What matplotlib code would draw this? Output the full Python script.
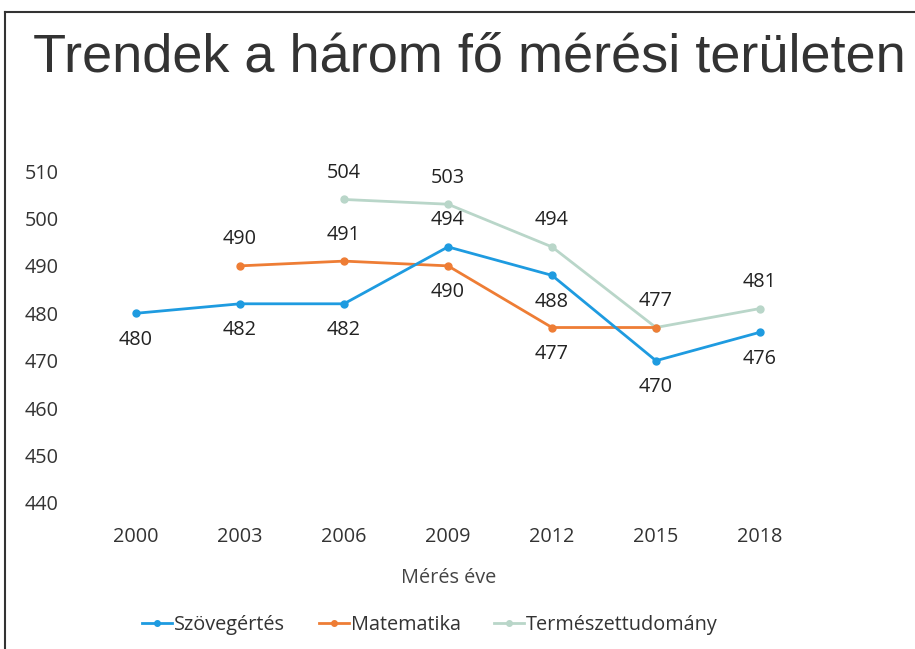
import matplotlib
matplotlib.use("Agg")
import matplotlib.pyplot as plt
import numpy as np
from matplotlib.lines import Line2D

years = ["2000", "2003", "2006", "2009", "2012", "2015", "2018"]
szoveg = [480, 482, 482, 494, 488, 470, 476]
matek = [None, 490, 491, 490, 477, 477, None]
termtud = [None, None, 504, 503, 494, 477, 481]
yticks = [440, 450, 460, 470, 480, 490, 500, 510]

# label placement: +1 above, -1 below, 0 none
szoveg_pos = [-1, -1, -1, 1, -1, -1, -1]
matek_pos = [0, 1, 1, -1, -1, 0, 0]
termtud_pos = [0, 0, 1, 1, 1, 1, 1]

c_blue = "#1e9be0"
c_orange = "#ee7d35"
c_green = "#b9d6c9"
font = ["Open Sans", "DejaVu Sans"]
fs = 14.3

fig = plt.figure(figsize=(9.15, 6.49), dpi=100)
ax = fig.add_axes([0.0918, 0.225, 0.7956, 0.5115])
x = np.arange(len(years))

def plot_series(vals, color, pos, lw=2.0, z=3):
    xs = [i for i, v in enumerate(vals) if v is not None]
    ys = [v for v in vals if v is not None]
    ax.plot(xs, ys, color=color, lw=lw, marker="o", ms=5, zorder=z)
    for i, v in enumerate(vals):
        if v is None or pos[i] == 0:
            continue
        ax.annotate(str(v), (i, v), xytext=(0, 19 * pos[i]), textcoords="offset points",
                    ha="center", va="center", fontsize=fs, color="#222222", family=font)

plot_series(termtud, c_green, termtud_pos, lw=2.0, z=2)
plot_series(matek, c_orange, matek_pos, z=3)
plot_series(szoveg, c_blue, szoveg_pos, z=4)

ax.set_xlim(-0.5, len(years) - 0.5)
ax.set_ylim(440, 510)
ax.set_yticks(yticks)
ax.set_xticks(x)
ax.set_xticklabels(years)
for s in ax.spines.values():
    s.set_visible(False)
ax.tick_params(length=0, labelsize=fs, colors="#333333")
ax.tick_params(axis="y", pad=18)
ax.tick_params(axis="x", pad=17)
for lab in ax.get_xticklabels() + ax.get_yticklabels():
    lab.set_family(font)

fig.text(0.49, 1 - 578 / 649, "Mérés éve",
         ha="center", va="center", fontsize=fs, color="#444444", family=font)

fig.text(0.513, 1 - 58 / 649, "Trendek a három fő mérési területen", ha="center", va="center",
         fontsize=39, color="#333333", family=["Liberation Sans", "DejaVu Sans"])

handles = [Line2D([], [], color=c, lw=2, marker="o", ms=4) for c in (c_blue, c_orange, c_green)]
fig.legend(handles, ["Szövegértés", "Matematika", "Természettudomány"], loc="center",
           bbox_to_anchor=(0.47, 1 - 625 / 649), ncol=3, frameon=False,
           prop={"family": "Open Sans", "size": fs}, handlelength=1.5, handletextpad=0.1,
           columnspacing=1.7, labelcolor="#333333")

# page frame lines (top and left)
fig.add_artist(Line2D([0.005, 1.0], [1 - 12 / 649, 1 - 12 / 649], color="#333333", lw=1.5,
                      transform=fig.transFigure))
fig.add_artist(Line2D([0.006, 0.006], [0, 1 - 12 / 649], color="#333333", lw=1.5,
                      transform=fig.transFigure))

fig.savefig("out.png", dpi=100)
